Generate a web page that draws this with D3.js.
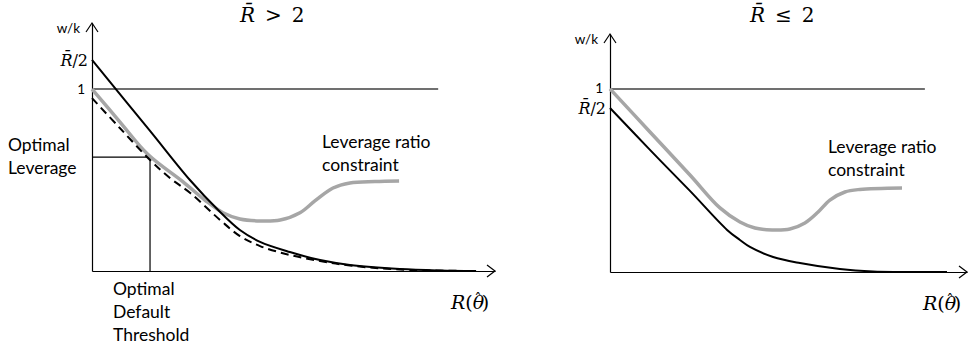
<!DOCTYPE html>
<html>
<head>
<meta charset="utf-8">
<script src="https://cdn.jsdelivr.net/npm/d3@7"></script>
<style>
  body { margin: 0; background: #fff; }
  text { font-family: Lato, 'Open Sans', sans-serif; fill: #000; }
  .math { font-family: 'DejaVu Serif', 'Liberation Serif', serif; }
</style>
</head>
<body>
<div id="chart"></div>
<script>
// Data (x in arbitrary R(theta) units 0-10, y in w/k units)
const leftSolid = [[0, 1.16], [1.44, 0.77], [2.43, 0.5], [3.13, 0.335], [3.67, 0.225], [4.17, 0.16],
  [4.91, 0.104], [5.66, 0.06], [6.4, 0.033], [7.64, 0.011], [8.64, 0.003], [9.53, 0]]
const leftGray = [[0, 1.0], [0.69, 0.82], [1.39, 0.64], [2.26, 0.49], [2.8, 0.39], [3.25, 0.32],
  [3.67, 0.286], [4.17, 0.275], [4.67, 0.28], [5.16, 0.32], [5.53, 0.385], [5.98, 0.456],
  [6.4, 0.484], [7.02, 0.492], [7.62, 0.495]]
const leftDashed = [[0, 0.95], [0.69, 0.786], [1.44, 0.61], [1.94, 0.51], [2.43, 0.43], [3.18, 0.28],
  [3.67, 0.192], [4.17, 0.137], [4.91, 0.088], [5.66, 0.055], [6.4, 0.03], [7.64, 0.008], [9.53, 0]]
const rightSolid = [[0, 0.896], [1.12, 0.667], [2.24, 0.443], [3.28, 0.23], [3.64, 0.175], [3.92, 0.137],
  [4.57, 0.082], [5.32, 0.049], [6.44, 0.016], [7.37, 0.003], [9.44, 0]]
const rightGray = [[0, 1.0], [1.12, 0.765], [2.24, 0.53], [3.08, 0.35], [3.64, 0.273], [4.06, 0.24],
  [4.54, 0.23], [5.04, 0.235], [5.46, 0.268], [5.83, 0.328], [6.16, 0.393], [6.58, 0.437],
  [7.0, 0.451], [8.18, 0.459]]

const titles = ['>', '\u2264']
const rBarHalf = [1.16, 0.896]   // position of R-bar/2 tick
const oneLineEnd = [8.59, 8.82]  // where the w/k = 1 line stops
const optimalPoint = [1.44, 0.626] // optimal default threshold / leverage

// Dimensions
const dimensions = { width: 974, height: 350 }

const panels = [
  { x0: 92, x1: 495, y0: 271, y1: 23, yMax: 1.363, solid: leftSolid, gray: leftGray, dashed: leftDashed,
    title: titles[0], titleX: 240, rBar: rBarHalf[0], lineEnd: oneLineEnd[0],
    wk: [80, 33], note: [322, 148] },
  { x0: 610, x1: 967, y0: 272, y1: 34, yMax: 1.30, solid: rightSolid, gray: rightGray, dashed: null,
    title: titles[1], titleX: 750, rBar: rBarHalf[1], lineEnd: oneLineEnd[1],
    wk: [598, 44], note: [828, 153] },
]

const svg = d3.select('#chart')
  .append('svg')
  .attr('width', dimensions.width)
  .attr('height', dimensions.height)

function mathR(sel, rest) {
  sel.append('tspan').style('font-style', 'italic').text('R\u0304')
  sel.append('tspan').text(rest)
}

panels.forEach((p, i) => {
  const xScale = d3.scaleLinear().domain([0, 10]).range([p.x0, p.x1])
  const yScale = d3.scaleLinear().domain([0, p.yMax]).range([p.y0, p.y1])

  const g = svg.append('g')

  // Axes
  const xAxis = d3.axisBottom(xScale).tickValues([]).tickSizeOuter(0)
  const yAxis = d3.axisLeft(yScale).tickValues([]).tickSizeOuter(0)

  g.append('g')
    .attr('transform', `translate(0, ${p.y0})`)
    .call(xAxis)
    .call(a => a.select('.domain').attr('stroke', '#000').attr('stroke-width', 1.2))

  g.append('g')
    .attr('transform', `translate(${p.x0}, 0)`)
    .call(yAxis)
    .call(a => a.select('.domain').attr('stroke', '#000').attr('stroke-width', 1.2))

  // arrow heads
  const xe = xScale(10), ye = yScale(p.yMax)
  g.append('path')
    .attr('d', `M${xe - 8},${p.y0 - 6}L${xe},${p.y0}L${xe - 8},${p.y0 + 6}`)
    .attr('fill', 'none').attr('stroke', '#000').attr('stroke-width', 1.2)
  g.append('path')
    .attr('d', `M${p.x0 - 6},${ye + 9}L${p.x0},${ye}L${p.x0 + 6},${ye + 9}`)
    .attr('fill', 'none').attr('stroke', '#000').attr('stroke-width', 1.2)

  // w/k = 1 line
  g.append('line')
    .attr('x1', xScale(0)).attr('x2', xScale(p.lineEnd))
    .attr('y1', yScale(1)).attr('y2', yScale(1))
    .attr('stroke', '#404040').attr('stroke-width', 1.5)

  const line = d3.line()
    .x(d => xScale(d[0]))
    .y(d => yScale(d[1]))
    .curve(d3.curveCatmullRom.alpha(0.5))

  // optimal leverage box (left only)
  if (i === 0) {
    g.append('path')
      .attr('d', `M${xScale(0)},${yScale(optimalPoint[1])}H${xScale(optimalPoint[0])}V${yScale(0)}`)
      .attr('fill', 'none').attr('stroke', '#000').attr('stroke-width', 1.2)
  }

  g.append('path')
    .datum(p.gray)
    .attr('d', line)
    .attr('fill', 'none').attr('stroke', '#a6a6a6').attr('stroke-width', 3.5)

  if (p.dashed) {
    g.append('path')
      .datum(p.dashed)
      .attr('d', line)
      .attr('fill', 'none').attr('stroke', '#000').attr('stroke-width', 2)
      .attr('stroke-dasharray', '8,5')
  }

  g.append('path')
    .datum(p.solid)
    .attr('d', line)
    .attr('fill', 'none').attr('stroke', '#000').attr('stroke-width', 2)

  // Labels
  g.append('text').attr('class', 'math')
    .attr('x', p.titleX).attr('y', 22)
    .style('font-size', '20px')
    .call(s => mathR(s, `\u2002${p.title}\u20022`))

  g.append('text')
    .attr('x', p.wk[0]).attr('y', p.wk[1])
    .attr('text-anchor', 'end')
    .style('font-size', '13.5px')
    .text('w/k')

  g.append('text')
    .attr('x', p.x0 - 7).attr('y', yScale(1) + 4.5)
    .attr('text-anchor', 'end')
    .style('font-size', '13.5px')
    .text('1')

  g.append('text').attr('class', 'math')
    .attr('x', p.x0 - 4).attr('y', yScale(p.rBar) + 6)
    .attr('text-anchor', 'end')
    .style('font-size', '16px')
    .call(s => mathR(s, '/2'))

  g.append('text').attr('class', 'math')
    .attr('x', xe - 44).attr('y', p.y0 + 38)
    .style('font-size', '19px')
    .call(s => {
      s.append('tspan').style('font-style', 'italic').text('R')
      s.append('tspan').text('(')
      s.append('tspan').style('font-style', 'italic').text('\u03B8')
      s.append('tspan').attr('dx', -10).attr('dy', -5).style('font-size', '15px').text('\u02C6')
      s.append('tspan').attr('dx', 0).attr('dy', 5).text(')')
    })

  g.append('text')
    .attr('x', p.note[0]).attr('y', p.note[1])
    .style('font-size', '17.5px')
    .call(s => {
      s.append('tspan').attr('x', p.note[0]).text('Leverage ratio')
      s.append('tspan').attr('x', p.note[0]).attr('dy', 23).text('constraint')
    })

  if (i === 0) {
    g.append('text')
      .attr('y', 151)
      .style('font-size', '17.5px')
      .call(s => {
        s.append('tspan').attr('x', 8).text('Optimal')
        s.append('tspan').attr('x', 8).attr('dy', 23).text('Leverage')
      })
    g.append('text')
      .attr('y', 295)
      .style('font-size', '17.5px')
      .call(s => {
        s.append('tspan').attr('x', 113).text('Optimal')
        s.append('tspan').attr('x', 113).attr('dy', 23).text('Default')
        s.append('tspan').attr('x', 113).attr('dy', 23).text('Threshold')
      })
  }
})
</script>
</body>
</html>
